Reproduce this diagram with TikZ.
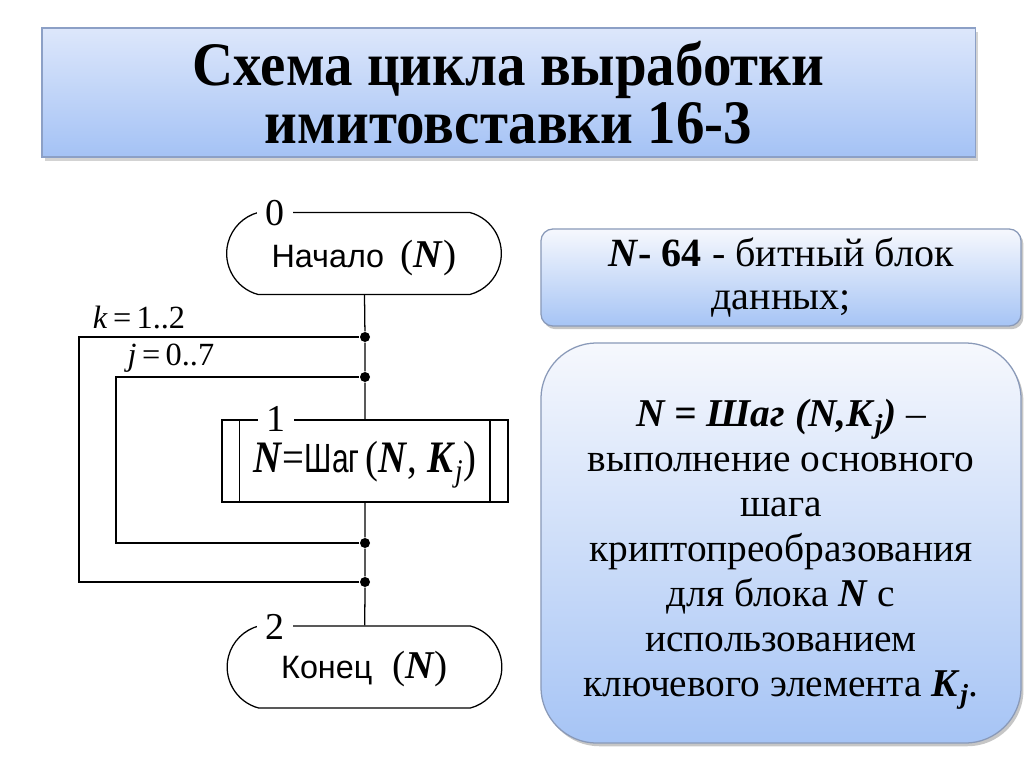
\documentclass[tikz,border=0pt]{standalone}
\usepackage{fontspec}
\usepackage{graphicx}
\setmainfont{Liberation Serif}
\newfontfamily\arialf{Liberation Sans}
\usetikzlibrary{shapes,shadows}
\definecolor{titletop}{RGB}{221,231,251}
\definecolor{titlebot}{RGB}{164,194,245}
\definecolor{infotop}{RGB}{246,248,253}
\definecolor{infobot}{RGB}{166,196,245}
\definecolor{boxline}{RGB}{140,160,198}
\tikzstyle{titlebox}=[rectangle,draw=boxline,top color=titletop,bottom color=titlebot,minimum width=23.325cm,minimum height=3.225cm,drop shadow={shadow xshift=0.07cm,shadow yshift=-0.09cm,opacity=0.35}]
\tikzstyle{infobox}=[rectangle,draw=boxline!80!gray,top color=infotop,bottom color=infobot,minimum width=12cm,align=center,drop shadow={shadow xshift=0.06cm,shadow yshift=-0.08cm,opacity=0.45}]
\tikzstyle{term}=[rounded rectangle,rounded rectangle arc length=150,draw,line width=0.9pt,minimum width=7.1cm,minimum height=2.05cm]
\tikzstyle{proc}=[rectangle,draw,line width=0.9pt,minimum width=7.15cm,minimum height=2.05cm]
\tikzstyle{num}=[fill=white,inner xsep=6pt,inner ysep=1pt,font=\fontsize{27}{27}\selectfont]
\tikzstyle{jdot}=[circle,fill=black,inner sep=0pt,minimum size=0.25cm]
\tikzstyle{flow}=[line width=0.9pt]
\newcommand{\bi}[1]{\textbf{\textit{#1}}}

\begin{document}
\begin{tikzpicture}[x=0.025cm,y=-0.025cm,flow]
\useasboundingbox (0,0) rectangle (1024,767);
% title
\node[titlebox,align=center,font=\fontsize{44}{41}\selectfont\bfseries] (title) at (508.5,92.5)
  {\scalebox{0.92}[1]{Схема цикла выработки}\\\scalebox{0.92}[1]{имитовставки 16-3}};
% flowchart
\node[term,font=\fontsize{28}{28}\selectfont,text height=20pt,text depth=0pt] (start) at (364,253.5) {{\arialf\fontsize{23}{23}\selectfont Начало}~\,(\bi{N})};
\node[num] (n0) at (275,213) {0};
\node[jdot] (k1) at (365,337) {};
\node[jdot] (j1) at (365,377) {};
\node[proc,font=\fontsize{32}{32}\selectfont,text height=19pt,text depth=3pt] (step) at (365,461)
  {\scalebox{0.86}[1]{\bi{N}={\arialf\fontsize{29}{29}\selectfont\scalebox{0.85}[1]{Шаг}}\,(\bi{N}, \bi{K}\textsubscript{\textit{j}})}};
\draw ([xshift=0.45cm]step.north west) -- ([xshift=0.45cm]step.south west);
\draw ([xshift=-0.47cm]step.north east) -- ([xshift=-0.47cm]step.south east);
\node[num] (n1) at (276,419) {1};
\node[jdot] (j2) at (365,543) {};
\node[jdot] (k2) at (365,582) {};
\node[term,font=\fontsize{28}{28}\selectfont,text height=20pt,text depth=3pt] (end) at (364.5,667) {{\arialf\fontsize{23}{23}\selectfont Конец}~~(\bi{N})};
\node[num] (n2) at (275,627) {2};
% loops
\coordinate (kbend) at (79,460);
\coordinate (jbend) at (116,460);
\draw (start) -- (k1) -- (j1) -- (step);
\draw (step) -- (j2) -- (k2) -- (end);
\draw (j2) -| (jbend) |- (j1);
\draw (k2) -| (kbend) |- (k1);
\node[font=\fontsize{23}{23}\selectfont] (klab) at (139,318) {\textit{k}\,=\,1..2};
\node[font=\fontsize{23}{23}\selectfont] (jlab) at (171,358) {\textit{j}\,=\,0..7};
% right
\node[infobox,minimum height=2.425cm,rounded corners=0.3cm,font=\fontsize{28.5}{31}\selectfont] (info1) at (781,277.5)
  {\bi{N}\textbf{- 64} - битный блок\\данных;};
\node[infobox,minimum height=10cm,rounded corners=1.4cm,font=\fontsize{28}{32}\selectfont] (info2) at (781,543)
  {\rule{0pt}{35pt}\bi{N = Шаг (N,K}\textsubscript{\bi{j}}\bi{)} --\\выполнение основного\\шага\\криптопреобразования\\для блока \bi{N} с\\использованием\\ключевого элемента \bi{K}\textsubscript{\bi{j}}.};
\end{tikzpicture}
\end{document}
